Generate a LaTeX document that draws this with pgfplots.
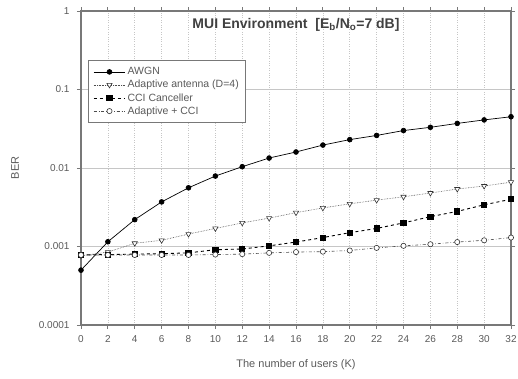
\documentclass[border=0pt]{standalone}
\usepackage{pgfplots}
\pgfplotsset{compat=1.18}
\usepackage{fontspec}
\setmainfont{Liberation Sans}
\definecolor{axgray}{RGB}{120,120,120}
\definecolor{txtgray}{RGB}{90,90,90}
\begin{document}
\begin{tikzpicture}
\begin{axis}[
  scale only axis,
  width=430pt, height=314pt,
  ymode=log,
  xmin=0, xmax=32, ymin=0.0001, ymax=1,
  xtick={0,2,...,32},
  ytick={0.0001,0.001,0.01,0.1,1},
  yticklabels={0.0001,0.001,0.01,0.1,1},
  yminorticks=false,
  axis line style={axgray, line width=1.2pt},
  tick style={axgray, line width=0.8pt},
  tick align=outside,
  major tick length=4pt,
  ticklabel style={font=\fontsize{10}{11}\selectfont, text=txtgray},
  yticklabel style={xshift=-4pt},
  xticklabel style={yshift=-3pt},
  /pgf/number format/assume math mode=true,
  xlabel={The number of users (K)},
  ylabel={BER},
  label style={font=\fontsize{11}{12}\selectfont, text=txtgray},
  xlabel style={at={(axis description cs:0.5,0)}, anchor=center, yshift=-40pt},
  ylabel style={at={(axis description cs:-0.153,0.5)}, anchor=center},
  ymajorgrids, xmajorgrids,
  x grid style={gray!45, dotted, line width=0.6pt},
  y grid style={gray!45, solid, line width=0.7pt},
  legend style={at={(rel axis cs:0.016,0.844)}, anchor=north west,
    draw=axgray, line width=1pt, font=\fontsize{10.5}{12}\selectfont, text=txtgray,
    inner xsep=5pt, inner ysep=5pt, row sep=0pt,
    legend cell align=left},
  legend image code/.code={
    \draw[#1] (0cm,0cm) -- (1.1cm,0cm);
    \draw[#1, mark repeat=2, mark phase=2] plot coordinates {(0cm,0cm) (0.55cm,0cm) (1.1cm,0cm)};
  },
  clip=false,
]
\addplot[black, line width=0.7pt, mark=*, mark size=2.4pt] coordinates {
(0,0.0005)(2,0.00115)(4,0.0022)(6,0.0037)(8,0.0056)(10,0.0079)(12,0.0104)(14,0.0134)(16,0.016)(18,0.0196)(20,0.023)(22,0.026)(24,0.030)(26,0.033)(28,0.037)(30,0.041)(32,0.045)};
\addlegendentry{AWGN}
\addplot[black!70, line width=0.6pt, densely dotted, mark=triangle*, mark options={solid, fill=white, draw=black!80, rotate=180}, mark size=3pt] coordinates {
(0,0.00076)(2,0.00085)(4,0.0011)(6,0.0012)(8,0.00144)(10,0.0017)(12,0.002)(14,0.0023)(16,0.0027)(18,0.0031)(20,0.0035)(22,0.0039)(24,0.0043)(26,0.0048)(28,0.0054)(30,0.0059)(32,0.0066)};
\addlegendentry{Adaptive antenna (D=4)}
\addplot[black, line width=0.9pt, dashed, mark=square*, mark options={solid}, mark size=2.6pt] coordinates {
(0,0.00078)(2,0.00079)(4,0.0008)(6,0.00081)(8,0.00083)(10,0.00091)(12,0.00093)(14,0.00102)(16,0.00114)(18,0.0013)(20,0.0015)(22,0.0017)(24,0.002)(26,0.0024)(28,0.0028)(30,0.0034)(32,0.004)};
\addlegendentry{CCI Canceller}
\addplot[black!70, line width=0.6pt, dashdotted, mark=*, mark options={solid, fill=white, draw=black!80}, mark size=2.6pt] coordinates {
(0,0.00078)(2,0.00078)(4,0.00078)(6,0.00078)(8,0.00078)(10,0.00079)(12,0.0008)(14,0.00083)(16,0.00085)(18,0.00086)(20,0.00089)(22,0.00096)(24,0.00102)(26,0.00107)(28,0.00114)(30,0.0012)(32,0.0013)};
\addlegendentry{Adaptive + CCI}
\node[font=\bfseries\fontsize{14}{16}\selectfont, text=black!75, anchor=center] at (rel axis cs:0.5,0.955) {MUI Environment\ \ [E\textsubscript{b}/N\textsubscript{o}=7 dB]};
\coordinate (bl) at (rel axis cs:0,0);
\coordinate (tr) at (rel axis cs:1,1);
\end{axis}
\pgfresetboundingbox
\path ([shift={(-81pt,-53pt)}]bl) rectangle ([shift={(7pt,11pt)}]tr);
\end{tikzpicture}
\end{document}
